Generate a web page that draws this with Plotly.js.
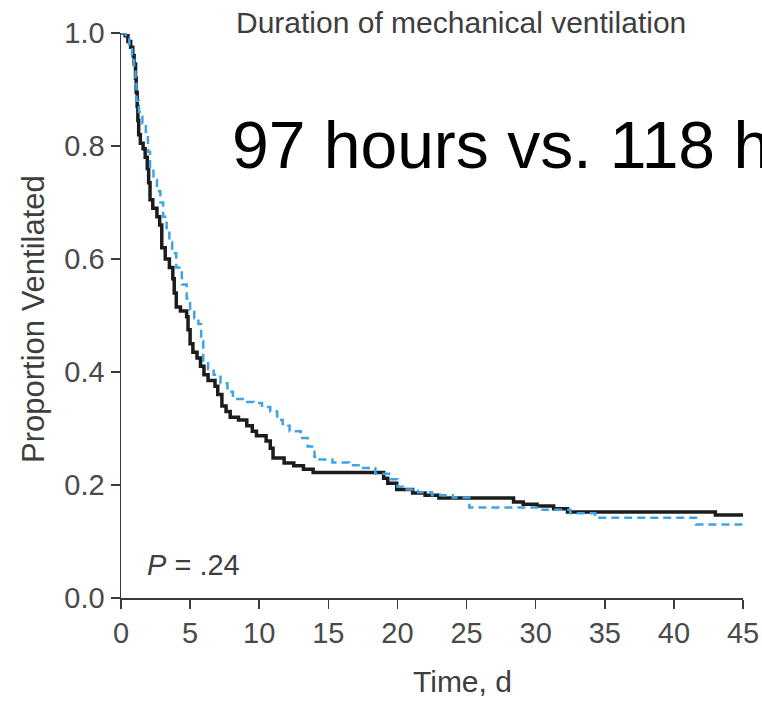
<!DOCTYPE html>
<html>
<head>
<meta charset="utf-8">
<script src="https://cdn.plot.ly/plotly-3.0.1.min.js"></script>
<style>html,body{margin:0;padding:0;background:#fff;}#chart{width:762px;height:701px;}</style>
</head>
<body>
<div id="chart"></div>
<script>
// Kaplan-Meier style step data
var timeBlack = [0, 0.3, 0.5, 0.7, 0.85, 0.95, 1.05, 1.1, 1.17, 1.22, 1.28, 1.4, 1.6, 1.75, 1.9, 2.0, 2.1, 2.3, 2.6, 2.8, 2.95, 3.2, 3.5, 3.75, 3.85, 4.0, 4.3, 4.75, 4.85, 5.0, 5.2, 5.5, 5.75, 6.0, 6.3, 6.8, 7.0, 7.3, 7.6, 7.9, 8.5, 9.1, 9.5, 9.8, 10.5, 10.8, 11.0, 11.8, 12.5, 13.2, 13.9, 19.0, 19.3, 19.95, 21.1, 22.0, 23.0, 28.4, 29.1, 30.1, 31.3, 32.3, 43.0, 45];
var propBlack = [1.0, 0.995, 0.985, 0.975, 0.96, 0.945, 0.92, 0.895, 0.87, 0.845, 0.82, 0.805, 0.795, 0.78, 0.76, 0.735, 0.705, 0.69, 0.675, 0.66, 0.62, 0.6, 0.585, 0.565, 0.54, 0.515, 0.508, 0.498, 0.475, 0.45, 0.435, 0.425, 0.41, 0.395, 0.385, 0.375, 0.36, 0.34, 0.33, 0.32, 0.315, 0.305, 0.295, 0.287, 0.278, 0.265, 0.248, 0.239, 0.234, 0.228, 0.222, 0.212, 0.203, 0.192, 0.186, 0.182, 0.177, 0.17, 0.166, 0.163, 0.158, 0.152, 0.147, 0.147];

var timeBlue = [0, 0.35, 0.6, 0.8, 0.95, 1.05, 1.12, 1.3, 1.55, 1.8, 1.95, 2.1, 2.35, 2.6, 2.85, 3.05, 3.3, 3.5, 3.7, 4.0, 4.4, 4.75, 5.0, 5.3, 5.6, 5.8, 5.95, 6.3, 6.7, 7.2, 7.7, 8.1, 8.8, 9.6, 10.2, 10.8, 11.3, 11.7, 12.2, 13.0, 13.5, 14.0, 14.2, 15.3, 16.5, 17.4, 18.4, 19.5, 20.0, 20.4, 21.5, 22.5, 24.0, 25.2, 30.5, 32.5, 34.3, 41.6, 45];
var propBlue = [1.0, 0.99, 0.975, 0.96, 0.94, 0.91, 0.88, 0.86, 0.84, 0.82, 0.79, 0.76, 0.74, 0.72, 0.7, 0.675, 0.655, 0.63, 0.61, 0.585, 0.555, 0.53, 0.51, 0.495, 0.485, 0.455, 0.42, 0.405, 0.395, 0.38, 0.365, 0.352, 0.347, 0.345, 0.338, 0.33, 0.315, 0.305, 0.295, 0.283, 0.268, 0.25, 0.245, 0.24, 0.235, 0.23, 0.22, 0.21, 0.197, 0.192, 0.187, 0.182, 0.178, 0.16, 0.156, 0.15, 0.142, 0.13, 0.127];

var xTicks = [0, 5, 10, 15, 20, 25, 30, 35, 40, 45];
var yTicks = [0, 0.2, 0.4, 0.6, 0.8, 1.0];
var yTickText = ["0.0", "0.2", "0.4", "0.6", "0.8", "1.0"];

var FONT = "Liberation Sans, Arial, Helvetica, sans-serif";
var L = 121, R = 743, T = 33, B = 598;
function px(x) { return (x - L) / (R - L); }
function py(y) { return (B - y) / (B - T); }

var traces = [
  {x: timeBlack, y: propBlack, type: "scatter", mode: "lines", line: {shape: "hv", color: "#1c1c1c", width: 3.5}, hoverinfo: "skip"},
  {x: timeBlue, y: propBlue, type: "scatter", mode: "lines", line: {shape: "hv", color: "#3ea4e6", width: 2.5, dash: "8px,5px"}, hoverinfo: "skip"}
];

var axisCommon = {
  showgrid: false, zeroline: false, showline: true, linecolor: "#3a3a3a", linewidth: 1.5,
  ticks: "outside", ticklen: 9, tickwidth: 1.5, tickcolor: "#3a3a3a",
  tickfont: {family: FONT, size: 29, color: "#4a4a4a"}, fixedrange: true
};

var layout = {
  width: 762, height: 701,
  margin: {l: L, r: 762 - R, t: T, b: 701 - B, pad: 0},
  paper_bgcolor: "#ffffff", plot_bgcolor: "#ffffff",
  showlegend: false,
  xaxis: Object.assign({}, axisCommon, {range: [0, 45], tickvals: xTicks, ticktext: xTicks.map(String)}),
  yaxis: Object.assign({}, axisCommon, {range: [0, 1], tickvals: yTicks, ticktext: yTickText}),
  annotations: [
    {text: "Duration of mechanical ventilation", xref: "paper", yref: "paper", x: px(234), y: py(22), xanchor: "left", yanchor: "middle", showarrow: false, font: {family: FONT, size: 30, color: "#3e3e3e"}},
    {text: "97 hours vs. 118 hours", xref: "paper", yref: "paper", x: px(230), y: py(145), xanchor: "left", yanchor: "middle", showarrow: false, font: {family: FONT, size: 66, color: "#000000"}},
    {text: "<i>P</i> = .24", xref: "paper", yref: "paper", x: px(145), y: py(565), xanchor: "left", yanchor: "middle", showarrow: false, font: {family: FONT, size: 29, color: "#3e3e3e"}},
    {text: "Time, d", xref: "paper", yref: "paper", x: px(462), y: py(681), xanchor: "center", yanchor: "middle", showarrow: false, font: {family: FONT, size: 30, color: "#3e3e3e"}},
    {text: "Proportion Ventilated", xref: "paper", yref: "paper", x: px(33), y: py(319), xanchor: "center", yanchor: "middle", textangle: -90, showarrow: false, font: {family: FONT, size: 31, color: "#3e3e3e"}}
  ]
};

Plotly.newPlot("chart", traces, layout, {displayModeBar: false, staticPlot: true});
</script>
</body>
</html>
